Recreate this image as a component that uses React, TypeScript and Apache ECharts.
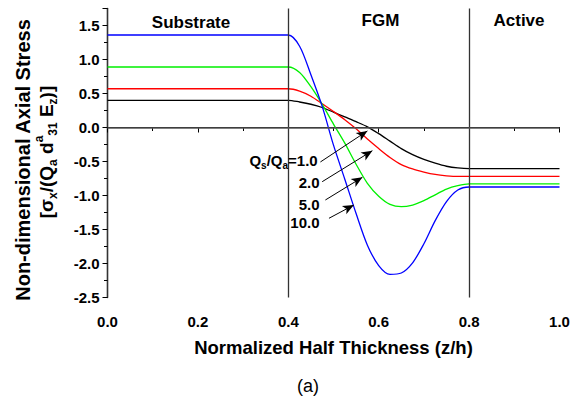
import React, { useEffect, useRef } from "react";
import * as echarts from "echarts";

const xs = [0, 0.2, 0.375, 0.4, 0.425, 0.45, 0.475, 0.5, 0.525, 0.55, 0.575, 0.6, 0.625, 0.65, 0.675, 0.7, 0.725, 0.75, 0.775, 0.8, 0.825, 1.0];
const q10 = [1.36, 1.36, 1.36, 1.36, 1.195, 0.775, 0.31, -0.26, -0.76, -1.265, -1.73, -2.03, -2.16, -2.14, -1.99, -1.71, -1.37, -1.09, -0.92, -0.875, -0.875, -0.875];
const q5 = [0.89, 0.89, 0.89, 0.89, 0.81, 0.6, 0.34, 0.05, -0.23, -0.54, -0.82, -1.01, -1.13, -1.165, -1.14, -1.075, -0.99, -0.905, -0.855, -0.83, -0.83, -0.83];
const q2 = [0.57, 0.57, 0.57, 0.57, 0.535, 0.46, 0.35, 0.235, 0.115, -0.02, -0.17, -0.31, -0.44, -0.545, -0.61, -0.655, -0.69, -0.71, -0.72, -0.72, -0.72, -0.72];
const q1 = [0.4, 0.4, 0.4, 0.4, 0.375, 0.342, 0.294, 0.225, 0.155, 0.085, 0.01, -0.09, -0.2, -0.31, -0.4, -0.47, -0.525, -0.57, -0.595, -0.605, -0.605, -0.605];

const regionBounds = [0.4, 0.8];
const xTicks = { min: 0, max: 1, interval: 0.2 };
const yTicks = { min: -2.5, max: 1.75, interval: 0.5 };

// annotation arrows: [startX, startY, endX, endY] in data units
const arrows = [
  [0.471, -0.507, 0.575, -0.05],
  [0.475, -0.797, 0.586, -0.341],
  [0.482, -1.066, 0.564, -0.732],
  [0.49, -1.335, 0.545, -1.14],
];
// annotation labels: [x, y, text]
const annLabels: [number, number, string][] = [
  [0.465, -0.49, "{m|Q}{s|s}{m|/Q}{s|a}{m|=1.0}"],
  [0.469, -0.816, "{m|2.0}"],
  [0.469, -1.125, "{m|5.0}"],
  [0.469, -1.4, "{m|10.0}"],
];

const FONT = "'Liberation Sans', Arial, Helvetica, sans-serif";

export default function App() {
  const ref = useRef<HTMLDivElement>(null);
  useEffect(() => {
    if (!ref.current) return;
    const chart = echarts.init(ref.current, null, { renderer: "svg" });
    const mk = (ys: number[]) => xs.map((x, i) => [x, ys[i]]);
    const lineSeries = (name: string, ys: number[], color: string, extra: any = {}) => ({
      name,
      type: "line",
      data: mk(ys),
      symbol: "none",
      smooth: 0.3,
      lineStyle: { color, width: 1.3 },
      z: 3,
      ...extra,
    });
    const richAnn = {
      m: { fontFamily: FONT, fontWeight: "bold", fontSize: 15, color: "#000", verticalAlign: "middle", lineHeight: 20 },
      s: { fontFamily: FONT, fontWeight: "bold", fontSize: 10, color: "#000", verticalAlign: "bottom", lineHeight: 20 },
    };
    const tickFmt = (v: number) => (Math.abs(v / 0.5 - Math.round(v / 0.5)) < 1e-6 ? v.toFixed(1) : "");
    chart.setOption({
      animation: false,
      grid: { left: 107.5, right: 20.5, top: 8.5, bottom: 106.5 },
      xAxis: [
        {
          type: "value",
          ...xTicks,
          name: "Normalized Half Thickness (z/h)",
          nameLocation: "middle",
          nameGap: 40,
          nameTextStyle: { fontFamily: FONT, fontWeight: "bold", fontSize: 18.5, color: "#000" },
          axisLine: { lineStyle: { color: "#000", width: 1.2 } },
          axisTick: { show: true, inside: false, length: 5, lineStyle: { color: "#000" } },
          minorTick: { show: true, splitNumber: 2, length: 3.5, lineStyle: { color: "#000" } },
          splitLine: { show: false },
          axisLabel: { fontFamily: FONT, fontWeight: "bold", fontSize: 15, color: "#000", margin: 16, formatter: (v: number) => v.toFixed(1) },
        },
        {
          type: "value",
          position: "top",
          ...xTicks,
          axisLine: { show: true, lineStyle: { color: "#000", width: 1.2 } },
          axisTick: { show: false },
          axisLabel: { show: false },
          splitLine: { show: false },
        },
      ],
      yAxis: [
        {
          type: "value",
          ...yTicks,
          axisLine: { show: true, lineStyle: { color: "#000", width: 1.2 } },
          axisTick: { show: true, inside: false, length: 5, lineStyle: { color: "#000" } },
          minorTick: { show: true, splitNumber: 2, length: 3.5, lineStyle: { color: "#000" } },
          splitLine: { show: false },
          axisLabel: { fontFamily: FONT, fontWeight: "bold", fontSize: 15, color: "#000", margin: 8, formatter: tickFmt },
        },
        {
          type: "value",
          position: "right",
          ...yTicks,
          axisLine: { show: true, lineStyle: { color: "#333", width: 1.4 } },
          axisTick: { show: false },
          axisLabel: { show: false },
          splitLine: { show: false },
        },
      ],
      series: [
        lineSeries("Qs/Qa=1.0", q1, "#000000", {
          markLine: {
            silent: true,
            symbol: ["none", "none"],
            label: { show: false },
            lineStyle: { color: "#333", width: 1.3, type: "solid" },
            data: [
              ...regionBounds.map((x) => ({ xAxis: x })),
              { yAxis: 0, lineStyle: { color: "#555", width: 1.6, type: "solid" } },
            ],
          },
        }),
        lineSeries("Qs/Qa=2.0", q2, "#ff0000"),
        lineSeries("Qs/Qa=5.0", q5, "#00f000"),
        lineSeries("Qs/Qa=10.0", q10, "#0000ff", {
          markLine: {
            silent: true,
            symbol: ["none", "arrow"],
            symbolSize: [7, 11],
            label: { show: false },
            lineStyle: { color: "#000", width: 1, type: "solid" },
            data: arrows.map((a) => [{ coord: [a[0], a[1]] }, { coord: [a[2], a[3]] }]),
          },
          markPoint: {
            silent: true,
            symbol: "circle",
            symbolSize: 0,
            data: annLabels.map((l) => ({
              coord: [l[0], l[1]],
              label: { show: true, position: "left", distance: 0, formatter: l[2], rich: richAnn },
            })),
          },
        }),
      ],
      graphic: [
        { type: "text", x: 191, y: 22, style: { text: "Substrate", font: `bold 17px ${FONT}`, fill: "#000", align: "center", verticalAlign: "middle" } },
        { type: "text", x: 380.5, y: 20, style: { text: "FGM", font: `bold 17px ${FONT}`, fill: "#000", align: "center", verticalAlign: "middle" } },
        { type: "text", x: 519, y: 20, style: { text: "Active", font: `bold 17px ${FONT}`, fill: "#000", align: "center", verticalAlign: "middle" } },
        { type: "text", x: 308, y: 386, style: { text: "(a)", font: `18px ${FONT}`, fill: "#000", align: "center", verticalAlign: "middle" } },
        {
          type: "text", x: 23, y: 160, rotation: Math.PI / 2,
          style: { text: "Non-dimensional Axial Stress", font: `bold 20px ${FONT}`, fill: "#000", align: "center", verticalAlign: "middle" },
        },
        {
          type: "text", x: 46, y: 152, rotation: Math.PI / 2,
          style: {
            text: "{m|[σ}{s|x}{m|/(Q}{s|a}{m| d}{p|a}{s|31}{m| E}{s|z}{m|)]}",
            align: "center", verticalAlign: "middle",
            rich: {
              m: { fontFamily: FONT, fontWeight: "bold", fontSize: 19, color: "#000", verticalAlign: "middle", lineHeight: 26 },
              s: { fontFamily: FONT, fontWeight: "bold", fontSize: 12, color: "#000", verticalAlign: "bottom", lineHeight: 26 },
              p: { fontFamily: FONT, fontWeight: "bold", fontSize: 12, color: "#000", verticalAlign: "top", lineHeight: 26 },
            },
          },
        },
      ],
    });
    return () => chart.dispose();
  }, []);
  return <div ref={ref} style={{ width: 580, height: 404, position: "absolute", left: 0, top: 0 }} />;
}
